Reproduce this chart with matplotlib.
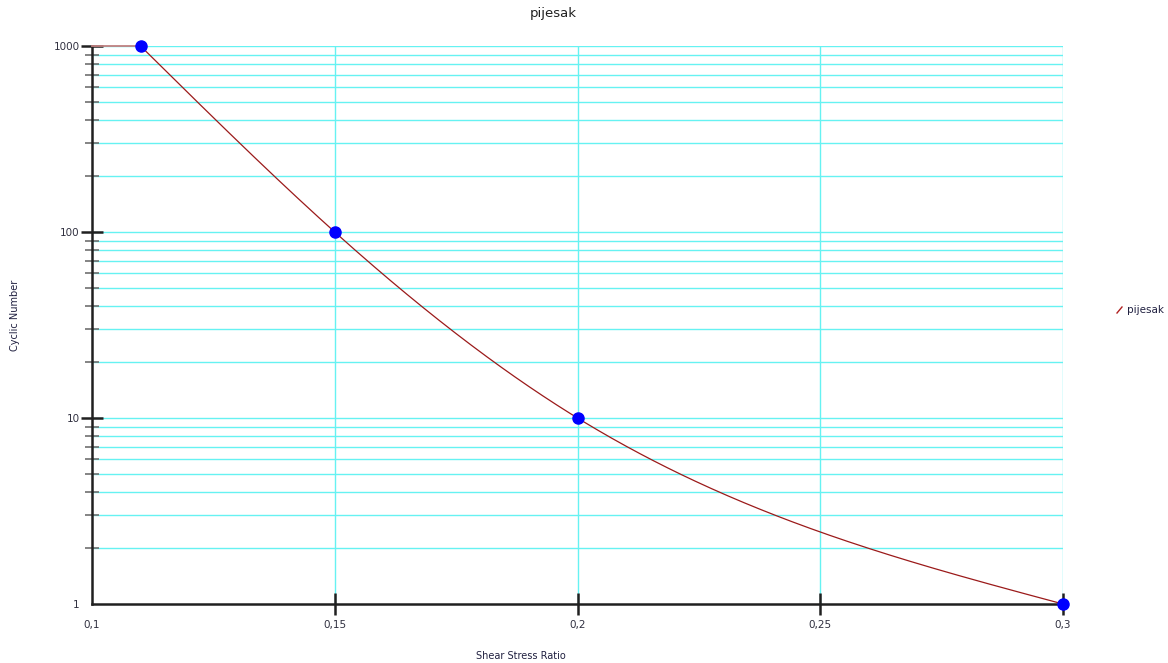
import numpy as np
import matplotlib
matplotlib.use("Agg")
import matplotlib.pyplot as plt
from matplotlib.ticker import FixedLocator, NullFormatter

# Data
shear_stress_ratio = [0.11, 0.15, 0.20, 0.30]
cyclic_number = [1000, 100, 10, 1]
x_ticks = [0.1, 0.15, 0.2, 0.25, 0.3]
x_tick_labels = ["0,1", "0,15", "0,2", "0,25", "0,3"]
y_ticks = [1, 10, 100, 1000]
y_tick_labels = ["1", "10", "100", "1000"]
series_name = "pijesak"

def natural_spline(x, y, xs):
    x = np.asarray(x, float); y = np.asarray(y, float)
    n = len(x)
    h = np.diff(x)
    A = np.zeros((n, n)); b = np.zeros(n)
    A[0, 0] = 1; A[-1, -1] = 1
    for i in range(1, n - 1):
        A[i, i - 1] = h[i - 1]; A[i, i] = 2 * (h[i - 1] + h[i]); A[i, i + 1] = h[i]
        b[i] = 3 * ((y[i + 1] - y[i]) / h[i] - (y[i] - y[i - 1]) / h[i - 1])
    c = np.linalg.solve(A, b)
    out = np.empty_like(xs)
    for k, xv in enumerate(xs):
        i = min(max(np.searchsorted(x, xv) - 1, 0), n - 2)
        bi = (y[i + 1] - y[i]) / h[i] - h[i] * (2 * c[i] + c[i + 1]) / 3
        di = (c[i + 1] - c[i]) / (3 * h[i])
        t = xv - x[i]
        out[k] = y[i] + bi * t + c[i] * t ** 2 + di * t ** 3
    return out

fig = plt.figure(figsize=(11.68, 6.63), dpi=100)
ax = fig.add_axes([92 / 1168, 59 / 663, (1063 - 92) / 1168, (604 - 46) / 663])
ax.set_yscale("log")
ax.set_xlim(0.1, 0.3)
ax.set_ylim(1, 1000)

# grid
grid_c = "#66f2f2"
minor_y = [m * 10 ** e for e in range(0, 3) for m in range(2, 10)]
for yv in minor_y + y_ticks[1:]:
    ax.axhline(yv, color=grid_c, lw=1.0, zorder=1)
for xv in x_ticks[1:]:
    ax.axvline(xv, color=grid_c, lw=1.0, zorder=1)

# curve
xs = np.linspace(shear_stress_ratio[0], shear_stress_ratio[-1], 400)
ys = 10 ** natural_spline(shear_stress_ratio, np.log10(cyclic_number), xs)
ax.plot([x_ticks[0], shear_stress_ratio[0]], [cyclic_number[0]] * 2, color="#c08080", lw=1.3, zorder=3, clip_on=False)
ax.plot(xs, ys, color="#9b1a1a", lw=0.9, zorder=3)
ax.plot(shear_stress_ratio, cyclic_number, "o", color="#0000ff", ms=8, zorder=4, clip_on=False)

for s in ["top", "right"]:
    ax.spines[s].set_visible(False)
for s in ["left", "bottom"]:
    ax.spines[s].set_linewidth(1.8)
    ax.spines[s].set_color("#202020")

ax.set_xticks(x_ticks)
ax.set_xticklabels(x_tick_labels)
ax.set_yticks(y_ticks)
ax.set_yticklabels(y_tick_labels)
ax.yaxis.set_minor_locator(FixedLocator(minor_y))
ax.yaxis.set_minor_formatter(NullFormatter())
ax.tick_params(axis="both", which="major", direction="inout", length=16.5, width=1.8, color="#202020",
               labelsize=7.5, labelcolor="#303040")
ax.tick_params(axis="y", which="minor", direction="inout", length=9.5, width=1.2, color="#707070")
ax.tick_params(axis="x", which="major", pad=3)
ax.tick_params(axis="y", which="major", pad=0.5)

# no tick marks at the origin corner
fig.canvas.draw()
ax.xaxis.get_major_ticks()[0].tick1line.set_visible(False)
ax.yaxis.get_major_ticks()[0].tick1line.set_visible(False)

fig.text(553 / 1168, 1 - 14 / 663, "pijesak", ha="center", va="center", fontsize=9.5, color="#202020")
fig.text(521 / 1168, 1 - 656 / 663, "Shear Stress Ratio", ha="center", va="center", fontsize=7, color="#202040")
fig.text(15 / 1168, 1 - 315 / 663, "Cyclic Number", ha="center", va="center", rotation=90, fontsize=7, color="#202040")

fig.lines.append(plt.Line2D([1117 / 1168, 1122 / 1168], [1 - 313 / 663, 1 - 307 / 663],
                            color="#b02020", lw=1.0, transform=fig.transFigure))
fig.text(1127 / 1168, 1 - 310 / 663, series_name, ha="left", va="center", fontsize=7.5, color="#202040")

fig.savefig("out.png", dpi=100, facecolor="white")
